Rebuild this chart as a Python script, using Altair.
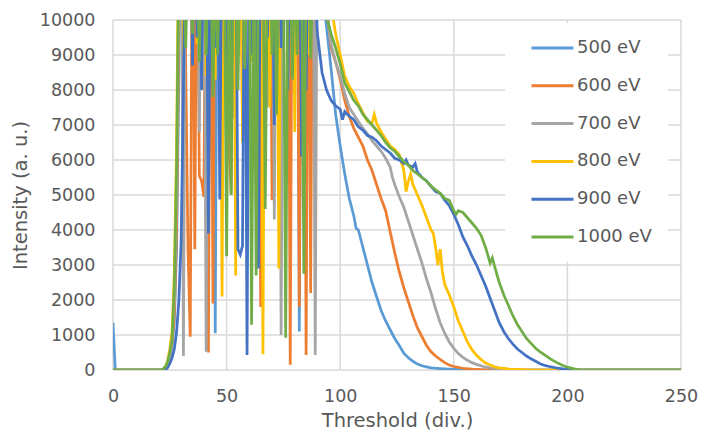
import altair as alt
import pandas as pd

labels = ["500 eV", "600 eV", "700 eV", "800 eV", "900 eV", "1000 eV"]
colors = ["#5B9BD5", "#ED7D31", "#A5A5A5", "#FFC000", "#4472C4", "#70AD47"]

x500 = [0, 1, 22, 23, 24, 25, 26, 27, 28, 29, 30, 44, 45, 46, 61, 62, 63, 71, 72, 73, 81, 82, 83,
        91, 92, 94, 96, 98, 100, 102, 104, 106, 107, 108, 110, 112, 114, 116, 118, 120, 122, 124,
        126, 128, 130, 132, 134, 136, 138, 140, 144, 148, 152, 156, 160, 250]
y500 = [1350, 0, 0, 20, 100, 300, 700, 1400, 3500, 8500, 15000, 15000, 1050, 15000, 15000, 8500,
        15000, 15000, 9000, 15000, 15000, 1100, 15000, 15000, 11000, 9800, 8600, 7300, 6400, 5600,
        4900, 4400, 4050, 4000, 3500, 3000, 2500, 2100, 1700, 1400, 1150, 900, 700, 480, 350, 250,
        170, 120, 90, 60, 40, 25, 15, 5, 0, 0]

x600 = [0, 22, 23, 24, 25, 26, 27, 28, 29, 30, 31, 32, 33, 34, 35, 36, 37, 38, 39, 40, 41, 42, 43,
        44, 45, 46, 47, 48, 50, 51, 52, 53, 56, 57, 58, 59, 60, 61, 64, 65, 66, 69, 70, 71, 73, 74,
        75, 77, 78, 79, 80, 81, 82, 83, 84, 85, 86, 87, 88, 89, 90, 93, 94, 96, 98, 100, 102, 104,
        106, 108, 110, 112, 114, 116, 118, 120, 122, 124, 126, 128, 130, 132, 134, 136, 138, 140,
        142, 144, 146, 148, 150, 154, 158, 162, 166, 250]
y600 = [0, 0, 30, 120, 350, 800, 1600, 4200, 10000, 15000, 15000, 8700, 3500, 950, 15000, 3450,
        15000, 5550, 5400, 4950, 15000, 500, 15000, 1900, 15000, 15000, 8800, 15000, 15000, 6500,
        5050, 15000, 15000, 7000, 15000, 15000, 9000, 15000, 15000, 1800, 15000, 15000, 4850, 15000,
        15000, 8500, 15000, 15000, 150, 15000, 8600, 15000, 1800, 15000, 15000, 430, 15000, 2200,
        15000, 9000, 15000, 15000, 10400, 9200, 8800, 8300, 7700, 7250, 6900, 6650, 6400, 6000, 5700,
        5300, 4900, 4550, 3950, 3350, 2800, 2350, 1950, 1550, 1200, 950, 700, 520, 400, 300, 210,
        140, 100, 50, 25, 10, 0, 0]

x700 = [0, 21, 22, 23, 24, 25, 26, 27, 28, 29, 30, 31, 32, 34, 35, 36, 37, 38, 39, 40, 41, 42, 43,
        44, 45, 47, 48, 49, 52, 53, 54, 57, 58, 59, 62, 63, 64, 67, 68, 69, 70, 71, 72, 73, 74, 75,
        76, 77, 78, 79, 80, 81, 83, 84, 85, 88, 89, 90, 93, 94, 96, 98, 100, 102, 104, 106, 108,
        110, 112, 114, 116, 118, 120, 122, 123, 124, 126, 128, 130, 132, 134, 136, 138, 140, 142,
        144, 146, 148, 150, 152, 154, 156, 158, 160, 163, 166, 170, 175, 180, 250]
y700 = [0, 0, 10, 40, 150, 400, 900, 2000, 5000, 11000, 15000, 400, 15000, 15000, 9600, 15000,
        15000, 6800, 15000, 15000, 520, 15000, 15000, 9500, 15000, 15000, 8000, 15000, 15000, 7200,
        15000, 15000, 9000, 15000, 15000, 8300, 15000, 15000, 7500, 15000, 15000, 4300, 15000, 15000,
        1000, 15000, 15000, 8300, 15000, 15000, 9000, 15000, 15000, 8000, 15000, 15000, 430, 15000,
        15000, 10300, 9300, 8800, 8400, 7900, 7500, 7300, 7100, 6900, 6750, 6550, 6400, 6250, 6050,
        5800, 5500, 5300, 4950, 4650, 4250, 3850, 3450, 3050, 2600, 2200, 1750, 1350, 1050, 800,
        620, 470, 360, 280, 210, 160, 100, 60, 30, 10, 0, 0]

x800 = [0, 21, 22, 23, 24, 25, 26, 27, 28, 29, 30, 31, 32, 36, 37, 38, 40, 41, 42, 44, 45, 46, 47,
        48, 49, 50, 51, 52, 53, 54, 55, 56, 57, 58, 60, 61, 62, 65, 66, 67, 68, 69, 70, 72, 73, 74,
        76, 77, 78, 79, 80, 81, 85, 86, 87, 95, 96, 98, 100, 102, 104, 106, 108, 110, 112, 114, 115,
        116, 118, 120, 122, 124, 126, 128, 129, 130, 131, 132, 134, 136, 138, 140, 141, 142, 143,
        144, 145, 146, 148, 150, 152, 154, 156, 158, 160, 162, 164, 166, 168, 170, 174, 180, 185,
        250]
y800 = [0, 0, 20, 70, 260, 600, 1100, 2800, 6500, 13000, 15000, 9000, 15000, 15000, 9300, 15000,
        15000, 8400, 15000, 15000, 8300, 15000, 15000, 2100, 15000, 15000, 9000, 15000, 15000, 2700,
        15000, 15000, 6500, 15000, 15000, 8800, 15000, 15000, 450, 15000, 15000, 7500, 15000, 15000,
        2900, 15000, 15000, 8000, 15000, 15000, 6800, 15000, 15000, 9000, 15000, 15000, 10400, 9600,
        9000, 8400, 8100, 7900, 7600, 7350, 7100, 7050, 7300, 7050, 6800, 6600, 6400, 6300, 6150,
        5700, 5100, 5400, 5600, 5300, 5000, 4700, 4350, 4000, 3900, 3500, 3000, 3450, 2800, 2450,
        2150, 1800, 1400, 1100, 800, 580, 420, 300, 200, 140, 90, 60, 30, 10, 0, 0]

x900 = [0, 22, 23, 24, 25, 26, 27, 28, 29, 30, 31, 32, 34, 35, 36, 37, 38, 39, 40, 41, 42, 43, 44,
        45, 46, 47, 48, 49, 50, 51, 52, 53, 54, 55, 56, 57, 58, 59, 60, 61, 62, 63, 64, 65, 67, 68,
        69, 70, 71, 72, 73, 74, 75, 76, 77, 78, 79, 80, 82, 83, 84, 85, 86, 87, 88, 90, 92, 94, 96,
        98, 100, 101, 102, 104, 106, 108, 110, 112, 114, 116, 118, 120, 122, 124, 126, 128, 129,
        130, 132, 133, 134, 136, 138, 140, 142, 144, 146, 148, 150, 152, 154, 156, 158, 160, 162,
        164, 166, 168, 170, 172, 174, 176, 178, 180, 182, 184, 186, 188, 190, 192, 195, 198, 202,
        205, 250]
y900 = [0, 0, 10, 60, 180, 350, 600, 1100, 2000, 3700, 8000, 14000, 14000, 8700, 14000, 9500,
        14000, 8000, 14000, 14000, 3900, 14000, 14000, 9200, 14000, 4870, 14000, 14000, 8500, 14000,
        7500, 14000, 14000, 3450, 3300, 3550, 14000, 430, 14000, 9000, 14000, 14000, 2900, 14000,
        14000, 9500, 14000, 14000, 7000, 14000, 14000, 9200, 14000, 14000, 8000, 14000, 9500, 14000,
        14000, 6100, 14000, 8000, 14000, 14000, 12000, 9600, 8500, 8000, 7700, 7550, 7450, 7150,
        7380, 7250, 7150, 6950, 6850, 6700, 6650, 6550, 6400, 6300, 6200, 6050, 6000, 5900, 6000,
        5850, 5800, 5900, 5650, 5500, 5400, 5250, 5100, 5050, 4850, 4700, 4450, 4150, 3800, 3550,
        3250, 3000, 2700, 2400, 2050, 1700, 1350, 1100, 900, 740, 600, 500, 400, 320, 250, 180, 130,
        100, 60, 30, 10, 0, 0]

x1000 = [0, 21, 22, 23, 24, 25, 26, 27, 28, 29, 31, 32, 33, 34, 35, 36, 37, 38, 39, 40, 41, 42, 43,
         44, 45, 46, 47, 49, 50, 51, 52, 53, 54, 55, 56, 57, 58, 59, 60, 61, 62, 63, 64, 66, 67, 68,
         69, 70, 71, 72, 73, 75, 76, 77, 78, 79, 80, 81, 82, 83, 84, 85, 86, 87, 88, 93, 94, 96, 98,
         100, 102, 104, 106, 108, 110, 112, 114, 116, 118, 120, 122, 124, 126, 128, 130, 132, 134,
         136, 138, 140, 142, 144, 146, 148, 150, 151, 152, 154, 156, 158, 160, 162, 164, 166, 167,
         168, 170, 172, 174, 176, 178, 180, 182, 184, 186, 188, 190, 192, 194, 196, 198, 200, 203,
         206, 250]
y1000 = [0, 0, 30, 90, 220, 500, 900, 2400, 5800, 12000, 12000, 9200, 12000, 12000, 9600, 12000,
         12000, 8800, 12000, 12000, 9000, 12000, 12000, 7800, 12000, 9000, 12000, 12000, 3250, 12000,
         5000, 12000, 12000, 8000, 12000, 12000, 8600, 12000, 12000, 1290, 12000, 2700, 12000, 12000,
         4600, 12000, 12000, 9000, 12000, 7300, 12000, 12000, 920, 12000, 12000, 8300, 12000, 9000,
         12000, 12000, 2750, 12000, 12000, 8900, 12000, 12000, 10100, 9600, 9200, 8750, 8200, 7950,
         7700, 7550, 7300, 7150, 7000, 6850, 6700, 6500, 6350, 6250, 6100, 5950, 5850, 5700, 5600,
         5500, 5400, 5250, 5150, 5050, 4900, 4850, 4550, 4450, 4550, 4500, 4350, 4200, 4050, 3850,
         3500, 3050, 3200, 2950, 2500, 2150, 1850, 1550, 1300, 1100, 900, 760, 620, 520, 430, 340,
         260, 190, 130, 80, 30, 0, 0]

x_ticks = [0, 50, 100, 150, 200, 250]
y_ticks = [0, 1000, 2000, 3000, 4000, 5000, 6000, 7000, 8000, 9000, 10000]

series = [(labels[0], x500, y500), (labels[1], x600, y600), (labels[2], x700, y700),
          (labels[3], x800, y800), (labels[4], x900, y900), (labels[5], x1000, y1000)]

rows = []
for name, xs, ys in series:
    for xv, yv in zip(xs, ys):
        rows.append({"series": name, "x": xv, "y": yv})
df = pd.DataFrame(rows)

FONT = "DejaVu Sans"
GREY = "#595959"
GRID = "#D9D9D9"

xscale = alt.Scale(domain=[0, 250], nice=False, zero=False)
yscale = alt.Scale(domain=[0, 10000], nice=False)

xaxis = alt.Axis(values=x_ticks, title="Threshold (div.)", grid=False, domain=False,
                 ticks=False, labelFlush=False, labelFontSize=17.5, labelColor=GREY,
                 labelPadding=17, labelFont=FONT, titleFont=FONT, titleFontSize=19.5,
                 titleColor=GREY, titleFontWeight="normal", titleY=50, titleBaseline="middle")
yaxis = alt.Axis(values=y_ticks, format="d", title="Intensity (a. u.)", grid=False,
                 domain=False, ticks=False, labelFlush=False, labelFontSize=17.5, labelColor=GREY,
                 labelPadding=18, labelFont=FONT, titleFont=FONT, titleFontSize=19.5,
                 titleColor=GREY, titleFontWeight="normal", titleX=-93, titleY=175,
                 titleAngle=270, titleAlign="center", titleBaseline="middle")

xenc = alt.X("x:Q", scale=xscale, axis=xaxis)
yenc = alt.Y("y:Q", scale=yscale, axis=yaxis)
cenc = alt.Color("series:N", scale=alt.Scale(domain=labels, range=colors),
                 legend=alt.Legend(title=None, orient="none", legendX=392, legendY=3,
                                   symbolType="stroke", symbolSize=1764, symbolStrokeWidth=3,
                                   labelFontSize=18, labelColor=GREY, labelFont=FONT,
                                   labelOffset=2, padding=16, symbolOffset=9, clipHeight=18,
                                   rowPadding=19.8, fillColor="white"))

vgrid = alt.Chart(pd.DataFrame({"x": x_ticks})).mark_rule(color=GRID, strokeWidth=1.5).encode(
    x=xenc)
hgrid = alt.Chart(pd.DataFrame({"y": y_ticks})).mark_rule(color=GRID, strokeWidth=1.5).encode(
    y=yenc)

layers = [vgrid, hgrid]
for name in labels:
    layers.append(
        alt.Chart(df).transform_filter(alt.datum.series == name)
        .mark_line(strokeWidth=2.75, clip=True)
        .encode(x=xenc, y=yenc, color=cenc)
    )

chart = alt.layer(*layers).properties(
    width=568, height=350,
    padding={"left": 105, "top": 12, "right": 17, "bottom": 60},
    autosize=alt.AutoSizeParams(type="none"),
).configure_view(stroke=None)

chart.save("out.html", embed_options={"renderer": "svg", "actions": False})
